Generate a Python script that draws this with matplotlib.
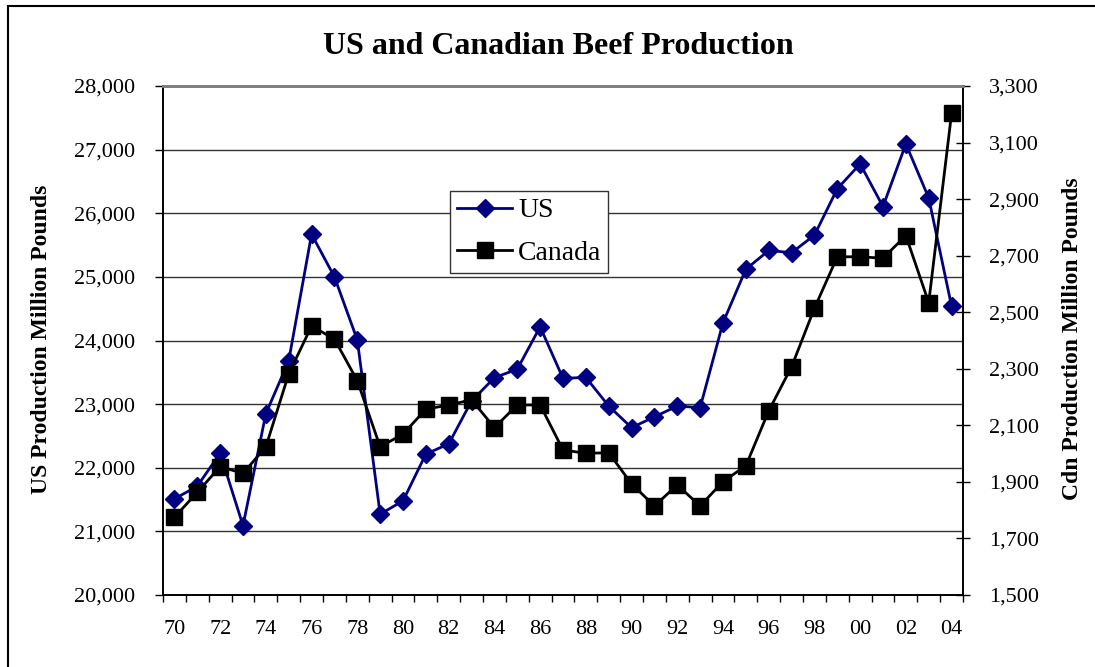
import matplotlib
matplotlib.use("Agg")
import matplotlib.pyplot as plt
from matplotlib.ticker import FuncFormatter, FixedLocator
from matplotlib.lines import Line2D
from matplotlib.patches import Rectangle

years = ["70","71","72","73","74","75","76","77","78","79",
         "80","81","82","83","84","85","86","87","88","89",
         "90","91","92","93","94","95","96","97","98","99",
         "00","01","02","03","04"]
us = [21510, 21710, 22230, 21090, 22850, 23680, 25670, 25000, 24010, 21270,
      21480, 22215, 22375, 23050, 23415, 23550, 24215, 23405, 23420, 22970,
      22630, 22800, 22970, 22945, 24280, 25120, 25415, 25380, 25655, 26385,
      26775, 26105, 27090, 26240, 24540]
canada = [1775, 1863, 1954, 1930, 2024, 2282, 2451, 2405, 2258, 2024,
          2069, 2157, 2172, 2190, 2092, 2172, 2172, 2013, 2001, 2003,
          1893, 1815, 1889, 1815, 1901, 1957, 2151, 2307, 2514, 2696,
          2696, 2691, 2771, 2534, 3203]
title = "US and Canadian Beef Production"
left_label = "US Production Million Pounds"
right_label = "Cdn Production Million Pounds"

plt.rcParams['font.family'] = ['Liberation Serif', 'DejaVu Serif']

W, H = 1095, 667
fig = plt.figure(figsize=(W/100, H/100), dpi=100)
L, R, T, B = 163, 963, 86, 595
ax = fig.add_axes([L/W, 1-B/H, (R-L)/W, (B-T)/H])
ax2 = ax.twinx()

x = list(range(len(years)))

ax.set_ylim(20000, 28000)
ax.set_yticks(range(20000, 28001, 1000))
ax.yaxis.set_major_formatter(FuncFormatter(lambda v, p: f"{int(v):,}"))
ax.grid(axis='y', color='#333333', linewidth=1.0)
ax.set_axisbelow(True)

ax2.set_ylim(1500, 3300)
ax2.set_yticks(range(1500, 3301, 200))
ax2.yaxis.set_major_formatter(FuncFormatter(lambda v, p: f"{int(v):,}"))

ax.set_xlim(-0.5, len(years)-0.5)
ax.set_xticks(x[::2])
ax.set_xticklabels(years[::2])
ax.xaxis.set_minor_locator(FixedLocator([i-0.5 for i in range(len(years)+1)]))

ax.plot(x, us, color='#000080', linewidth=2, marker='D', markersize=9.5,
        markeredgecolor='#000080', markerfacecolor='#000080', zorder=3)
ax2.plot(x, canada, color='black', linewidth=2, marker='s', markersize=11,
         markeredgecolor='black', markerfacecolor='black', zorder=3)

for a in (ax, ax2):
    a.spines['top'].set_color('#808080')
    a.spines['top'].set_linewidth(2)
    a.spines['left'].set_color('black')
    a.spines['right'].set_color('black')
    a.spines['bottom'].set_color('black')
    a.spines['left'].set_linewidth(1.2)
    a.spines['right'].set_linewidth(1.2)
    a.spines['bottom'].set_linewidth(1.2)

ax.tick_params(axis='y', direction='out', length=6, width=1, pad=14, labelsize=16, colors='black')
ax.tick_params(axis='x', which='major', length=0, pad=18, labelsize=16)
ax.tick_params(axis='x', which='minor', direction='out', length=5, width=1)
ax2.tick_params(axis='y', direction='inout', length=10, width=1, pad=14, labelsize=16)

fig.text(558/W, 1-47/H, title, ha='center', va='center', fontsize=23, fontweight='bold')
fig.text(42/W, 1-339/H, left_label, ha='center', va='center', rotation=90,
         fontsize=17, fontweight='bold')
fig.text(1072/W, 1-339/H, right_label, ha='center', va='center', rotation=90,
         fontsize=17, fontweight='bold')

handles = [Line2D([], [], color='#000080', linewidth=2, marker='D', markersize=9.5),
           Line2D([], [], color='black', linewidth=2, marker='s', markersize=11)]
leg = ax2.legend(handles, ["US", "Canada"], loc='upper left',
                 bbox_to_anchor=((450-L)/(R-L), (B-191)/(B-T)), borderaxespad=0,
                 fontsize=20, frameon=True, fancybox=False, framealpha=1,
                 edgecolor='#333333', handlelength=2.0, handletextpad=0.2,
                 borderpad=0.25, labelspacing=0.62)
leg.get_frame().set_linewidth(1)

fig.patches.append(Rectangle((8/W, -0.1), 1.2, 1+0.1-6/H, transform=fig.transFigure,
                             fill=False, edgecolor='black', linewidth=1.5))

fig.savefig("out.png", dpi=100)
